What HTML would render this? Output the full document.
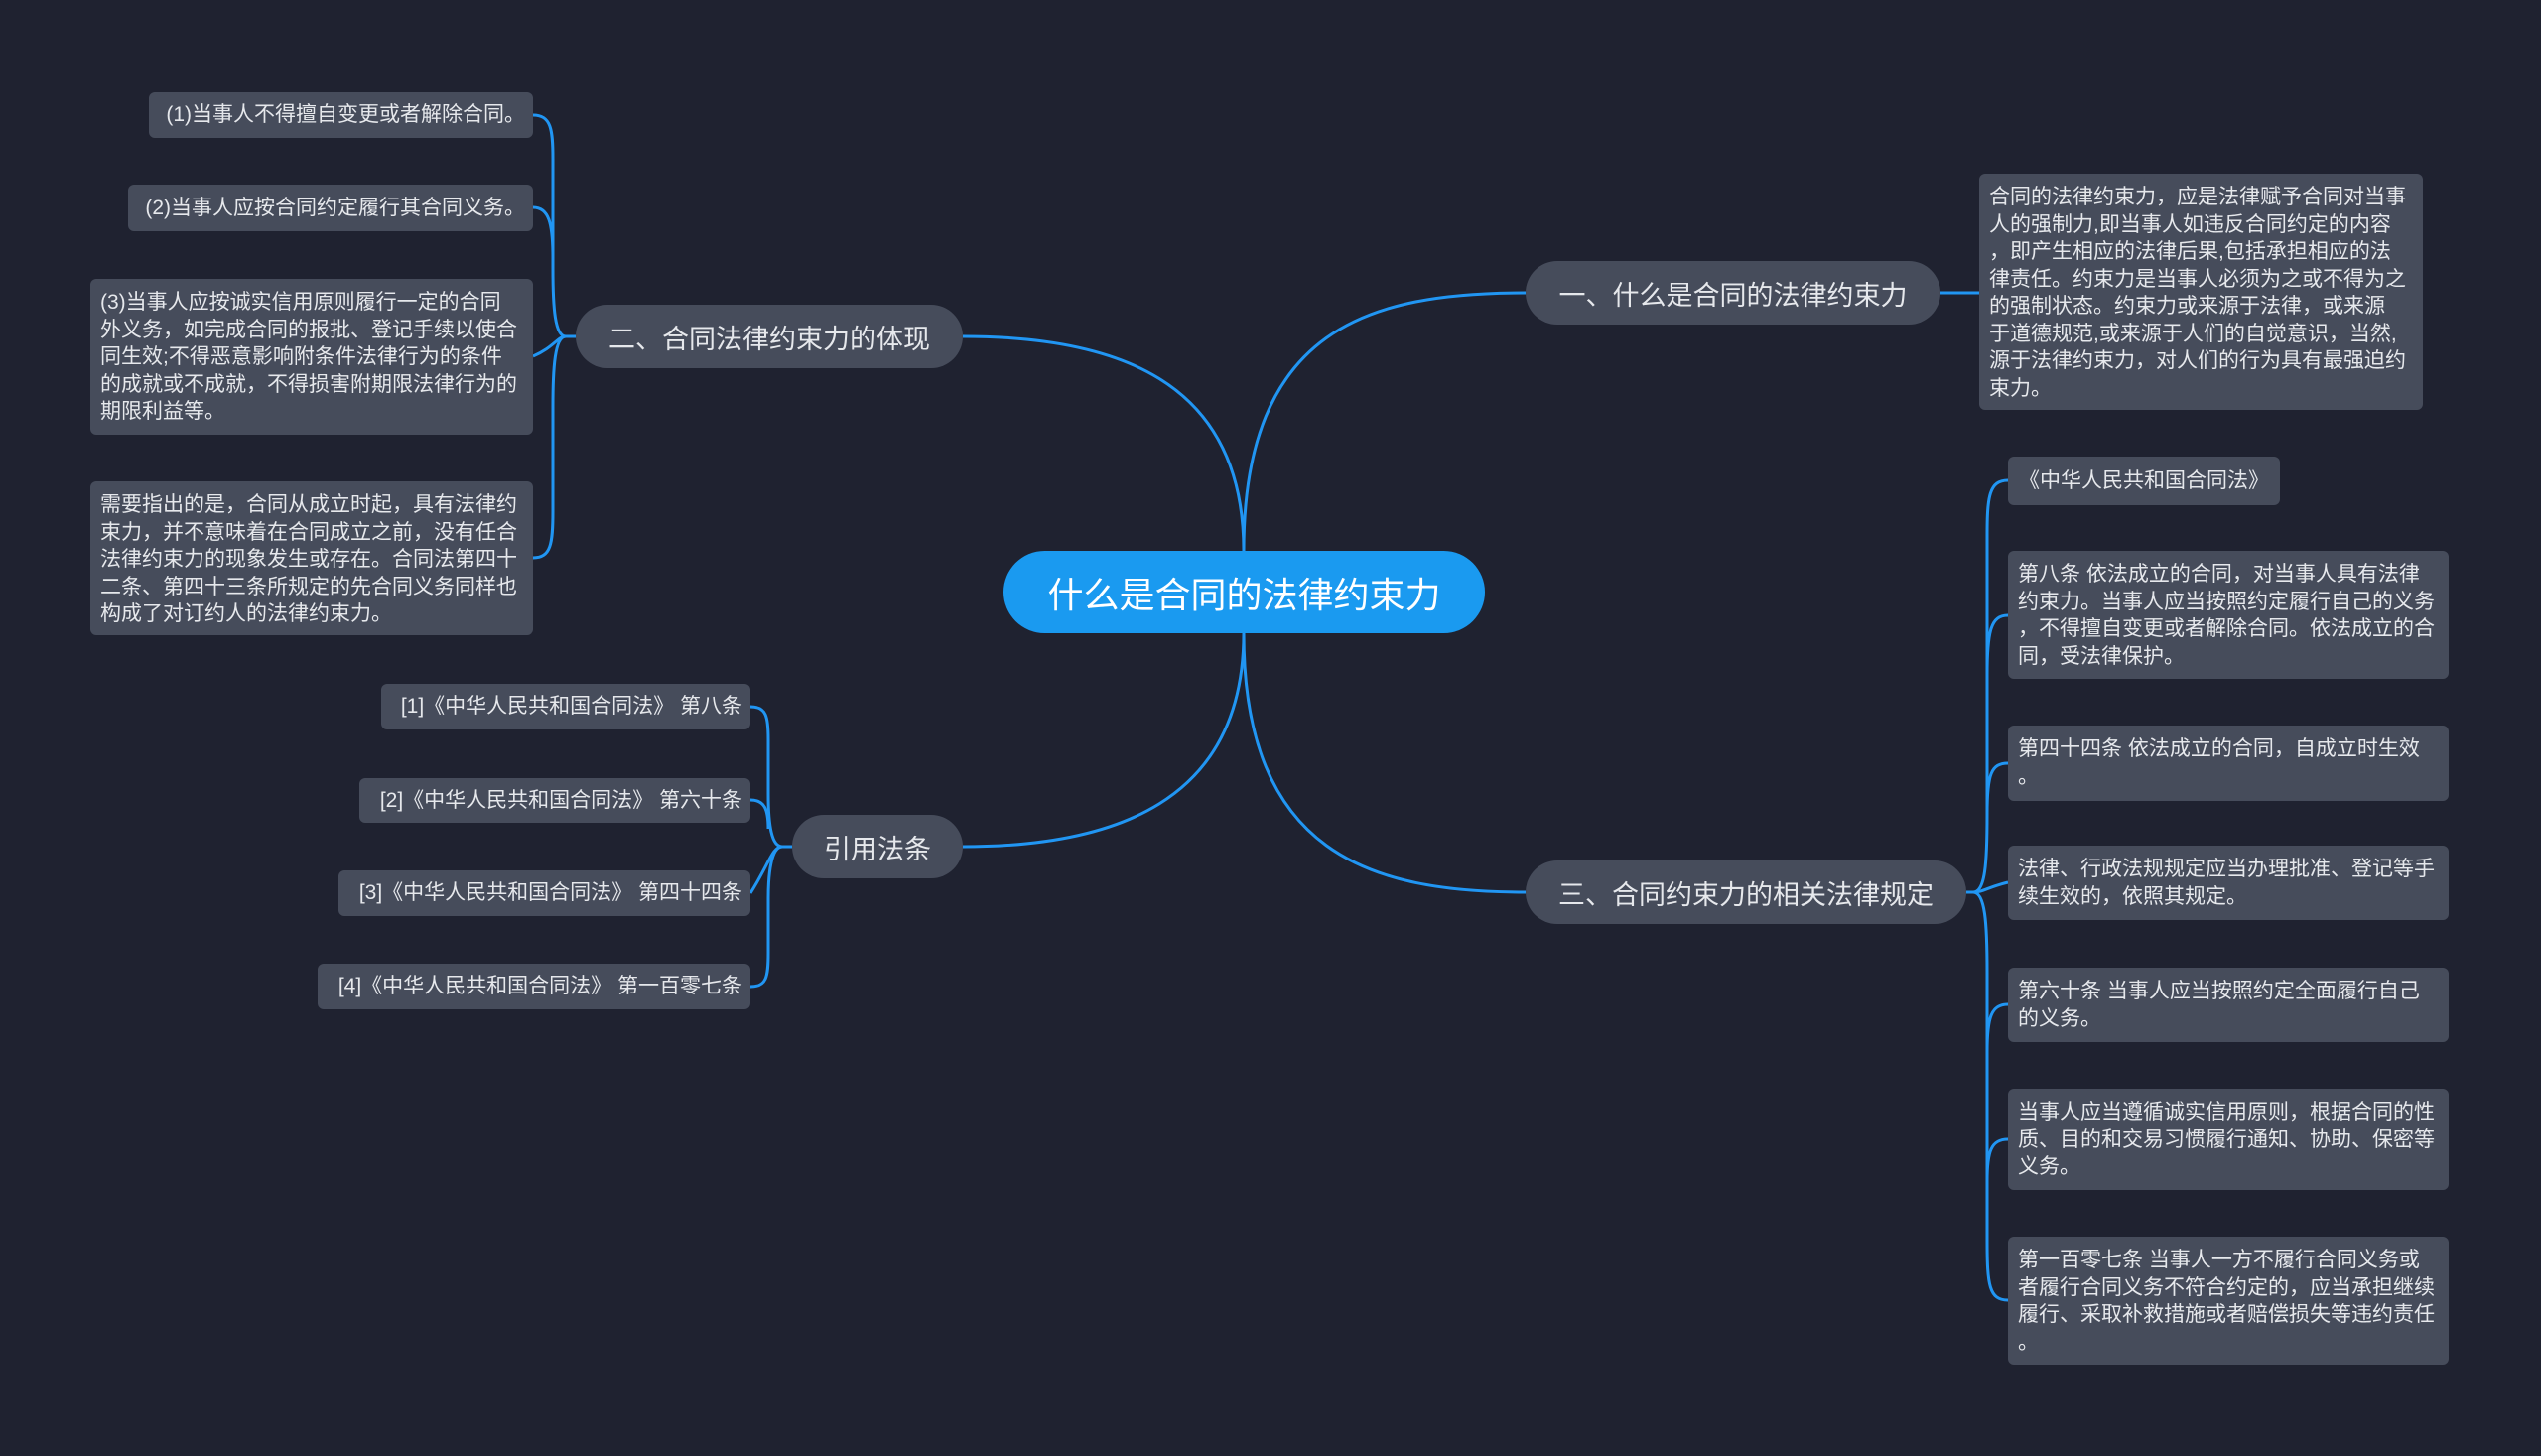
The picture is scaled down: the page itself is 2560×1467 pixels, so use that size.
<!DOCTYPE html>
<html><head><meta charset="utf-8"><style>
body{margin:0;width:2560px;height:1467px;background:#1f2230;overflow:hidden;font-family:"Liberation Sans","Noto Sans CJK SC",sans-serif;position:relative}
.n{position:absolute;box-sizing:border-box;color:#e6e8ec}
.root{background:#1a9af0;border-radius:42px;font-size:36px;color:#fff;display:flex;align-items:center;justify-content:center}
.br{background:#464c5b;border-radius:32px;font-size:27px;display:flex;align-items:center;justify-content:center}
.lf{background:#464c5b;border-radius:6px;font-size:21px;line-height:27.5px;padding:10px 10px;white-space:nowrap}
.c{display:flex;align-items:center;justify-content:center;padding:0}
.r{display:flex;align-items:center;justify-content:flex-end;padding:0 8px 0 0}
svg{position:absolute;left:0;top:0}
</style></head><body>
<svg width="2560" height="1467" fill="none" stroke="#2196f3" stroke-width="3">
<path d="M1253 555 C1253 330 1380 295 1537 295"/>
<path d="M1253 555 C1253 380 1120 339 970 339"/>
<path d="M1253 638 C1253 860 1380 899 1537 899"/>
<path d="M1253 638 C1253 810 1120 853 970 853"/>
<path d="M1955 295 H1994"/>
<path d="M1981 899 H1988 C2000 899 2002 870 2002 820 L2002 540 C2002 500 2004 484 2023 484"/>
<path d="M2002 680 C2002 635 2006 620 2023 620"/>
<path d="M2002 820 C2002 780 2006 769 2023 769"/>
<path d="M1988 899 C1998 899 2002 894 2023 889"/>
<path d="M1988 899 C2000 899 2002 930 2002 980 L2002 1250 C2002 1295 2004 1310 2023 1310"/>
<path d="M2002 1060 C2002 1025 2006 1012 2023 1012"/>
<path d="M2002 1190 C2002 1160 2006 1148 2023 1148"/>
<path d="M580 339 H570 C559 339 557 310 557 270 L557 160 C557 130 555 116 537 116"/>
<path d="M557 260 C557 225 553 209 537 209"/>
<path d="M570 339 C562 339 558 350 537 359"/>
<path d="M570 339 C559 339 557 370 557 410 L557 515 C557 548 555 562 537 562"/>
<path d="M798 853 H788 C777 853 774 830 774 800 L774 745 C774 722 772 712 756 712"/>
<path d="M774 835 C774 815 770 806 756 806"/>
<path d="M788 853 C778 853 775 870 756 900"/>
<path d="M788 853 C777 853 774 880 774 905 L774 960 C774 985 772 994 756 994"/>
</svg>

<div class="n root" style="left:1011px;top:555px;width:485px;height:83px">什么是合同的法律约束力</div>
<div class="n br" style="left:1537px;top:263px;width:418px;height:64px">一、什么是合同的法律约束力</div>
<div class="n br" style="left:580px;top:307px;width:390px;height:64px">二、合同法律约束力的体现</div>
<div class="n br" style="left:1537px;top:867px;width:444px;height:64px">三、合同约束力的相关法律规定</div>
<div class="n br" style="left:798px;top:821px;width:172px;height:64px">引用法条</div>

<div class="n lf" style="left:1994px;top:175px;width:447px;height:238px">合同的法律约束力，应是法律赋予合同对当事<br>人的强制力,即当事人如违反合同约定的内容<br>，即产生相应的法律后果,包括承担相应的法<br>律责任。约束力是当事人必须为之或不得为之<br>的强制状态。约束力或来源于法律，或来源<br>于道德规范,或来源于人们的自觉意识，当然,<br>源于法律约束力，对人们的行为具有最强迫约<br>束力。</div>

<div class="n lf c" style="left:2023px;top:460px;width:274px;height:49px">《中华人民共和国合同法》</div>
<div class="n lf" style="left:2023px;top:555px;width:444px;height:129px;padding-top:10px">第八条 依法成立的合同，对当事人具有法律<br>约束力。当事人应当按照约定履行自己的义务<br>，不得擅自变更或者解除合同。依法成立的合<br>同，受法律保护。</div>
<div class="n lf" style="left:2023px;top:731px;width:444px;height:76px">第四十四条 依法成立的合同，自成立时生效<br>。</div>
<div class="n lf" style="left:2023px;top:852px;width:444px;height:75px">法律、行政法规规定应当办理批准、登记等手<br>续生效的，依照其规定。</div>
<div class="n lf" style="left:2023px;top:975px;width:444px;height:75px">第六十条 当事人应当按照约定全面履行自己<br>的义务。</div>
<div class="n lf" style="left:2023px;top:1097px;width:444px;height:102px">当事人应当遵循诚实信用原则，根据合同的性<br>质、目的和交易习惯履行通知、协助、保密等<br>义务。</div>
<div class="n lf" style="left:2023px;top:1246px;width:444px;height:129px">第一百零七条 当事人一方不履行合同义务或<br>者履行合同义务不符合约定的，应当承担继续<br>履行、采取补救措施或者赔偿损失等违约责任<br>。</div>

<div class="n lf r" style="left:150px;top:93px;width:387px;height:46px">(1)当事人不得擅自变更或者解除合同。</div>
<div class="n lf r" style="left:129px;top:186px;width:408px;height:47px">(2)当事人应按合同约定履行其合同义务。</div>
<div class="n lf" style="left:91px;top:281px;width:446px;height:157px">(3)当事人应按诚实信用原则履行一定的合同<br>外义务，如完成合同的报批、登记手续以使合<br>同生效;不得恶意影响附条件法律行为的条件<br>的成就或不成就，不得损害附期限法律行为的<br>期限利益等。</div>
<div class="n lf" style="left:91px;top:485px;width:446px;height:155px">需要指出的是，合同从成立时起，具有法律约<br>束力，并不意味着在合同成立之前，没有任合<br>法律约束力的现象发生或存在。合同法第四十<br>二条、第四十三条所规定的先合同义务同样也<br>构成了对订约人的法律约束力。</div>

<div class="n lf r" style="left:384px;top:689px;width:372px;height:46px">[1]《中华人民共和国合同法》 第八条</div>
<div class="n lf r" style="left:362px;top:784px;width:394px;height:45px">[2]《中华人民共和国合同法》 第六十条</div>
<div class="n lf r" style="left:341px;top:877px;width:415px;height:46px">[3]《中华人民共和国合同法》 第四十四条</div>
<div class="n lf r" style="left:320px;top:971px;width:436px;height:46px">[4]《中华人民共和国合同法》 第一百零七条</div>
</body></html>
